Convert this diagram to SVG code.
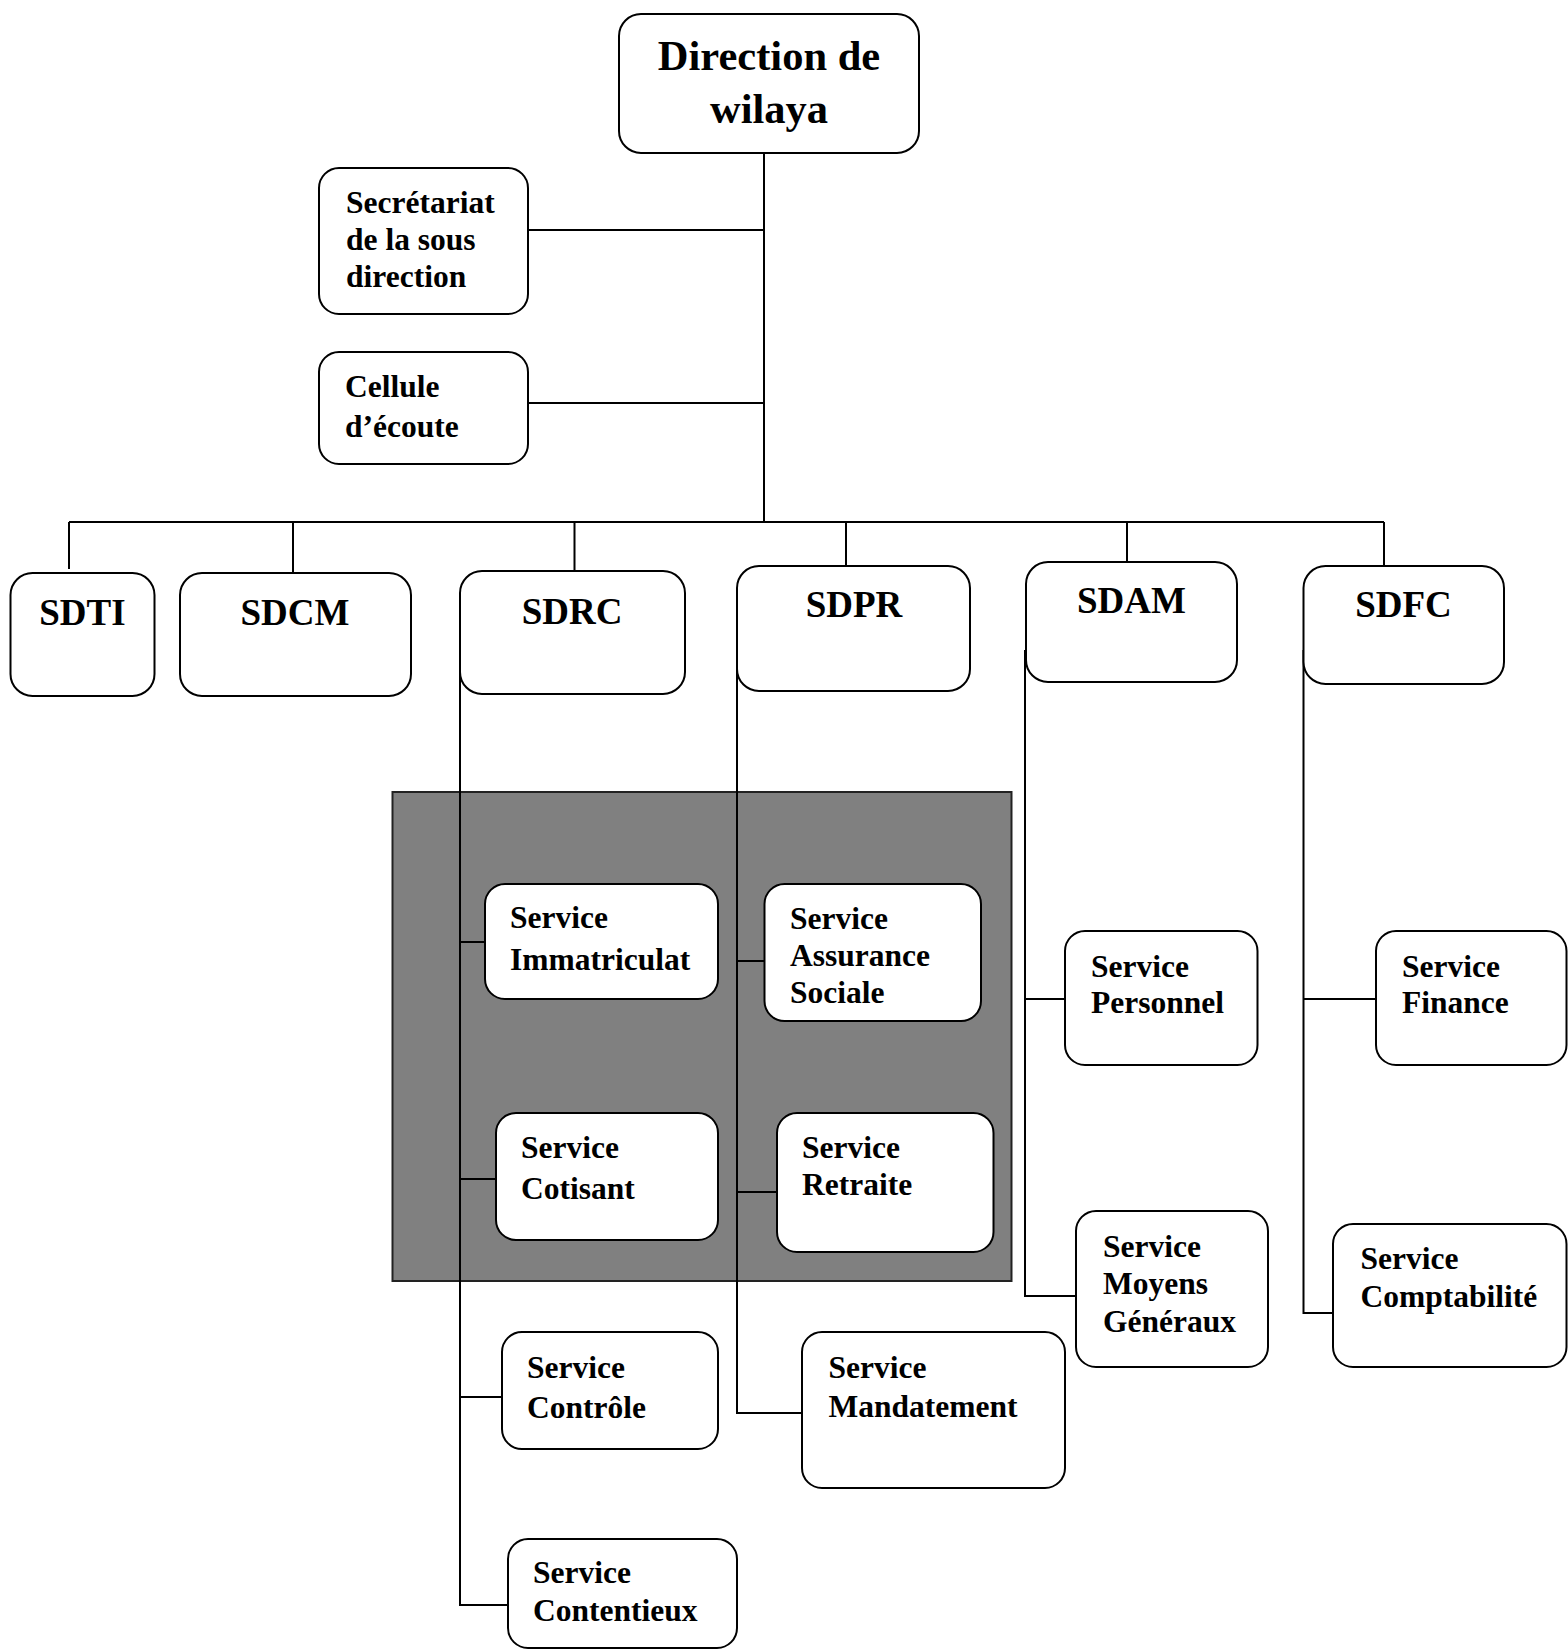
<svg xmlns="http://www.w3.org/2000/svg" width="1568" height="1650" viewBox="0 0 1568 1650">
<style>
.box{fill:#fff;stroke:#000;stroke-width:2}
.ln{fill:none;stroke:#000;stroke-width:2}
text{font-family:"Liberation Serif","Times New Roman",serif;font-weight:bold;fill:#000}
.t1{font-size:42.5px;text-anchor:middle}
.t2{font-size:37px;text-anchor:middle}
.t3{font-size:31.5px}
</style>
<rect x="392.5" y="792" width="619" height="489" fill="#808080" stroke="#222" stroke-width="2"/>
<g id="connectors">
<path class="ln" d="M764 153 V522 M528 230 H764 M528 403 H764"/>
<path class="ln" d="M69 522 H1384 M69 522 V569 M293 522 V573 M574.5 522 V571 M846 522 V566 M1127 522 V562 M1384 522 V566"/>
<path class="ln" d="M460 650 V1605 H508 M460 942 H485 M460 1179 H496 M460 1397 H502"/>
<path class="ln" d="M737 650 V1413 H802 M737 961 H764 M737 1192 H777"/>
<path class="ln" d="M1025 650 V1296 H1076 M1025 999 H1065"/>
<path class="ln" d="M1303.5 650 V1313 H1333 M1303.5 999 H1376"/>
</g>
<g id="direction"><rect class="box" x="619" y="14" width="300" height="139" rx="22"/><text class="t1" x="769" y="70">Direction de</text><text class="t1" x="769" y="123">wilaya</text></g>
<g id="secretariat"><rect class="box" x="319" y="168" width="209" height="146" rx="20"/><text class="t3" x="346" y="213">Secrétariat</text><text class="t3" x="346" y="250">de la sous</text><text class="t3" x="346" y="287">direction</text></g>
<g id="cellule"><rect class="box" x="319" y="352" width="209" height="112" rx="20"/><text class="t3" x="345" y="397">Cellule</text><text class="t3" x="345" y="437">d’écoute</text></g>
<g id="sdti"><rect class="box" x="10.5" y="573" width="144" height="123" rx="22"/><text class="t2" x="82.5" y="625">SDTI</text></g>
<g id="sdcm"><rect class="box" x="180" y="573" width="231" height="123" rx="22"/><text class="t2" x="295" y="625">SDCM</text></g>
<g id="sdrc"><rect class="box" x="460" y="571" width="225" height="123" rx="22"/><text class="t2" x="572" y="624">SDRC</text></g>
<g id="sdpr"><rect class="box" x="737" y="566" width="233" height="125" rx="22"/><text class="t2" x="854" y="617">SDPR</text></g>
<g id="sdam"><rect class="box" x="1026" y="562" width="211" height="120" rx="22"/><text class="t2" x="1131.5" y="613">SDAM</text></g>
<g id="sdfc"><rect class="box" x="1303.5" y="566" width="200.5" height="118" rx="22"/><text class="t2" x="1403.5" y="617">SDFC</text></g>
<g id="immatriculat"><rect class="box" x="485" y="884" width="233" height="115" rx="20"/><text class="t3" x="510" y="928">Service</text><text class="t3" x="510" y="970">Immatriculat</text></g>
<g id="assurance"><rect class="box" x="764.5" y="884" width="216.5" height="137" rx="20"/><text class="t3" x="790" y="929">Service</text><text class="t3" x="790" y="966">Assurance</text><text class="t3" x="790" y="1003">Sociale</text></g>
<g id="cotisant"><rect class="box" x="496" y="1113" width="222" height="127" rx="20"/><text class="t3" x="521" y="1158">Service</text><text class="t3" x="521" y="1199">Cotisant</text></g>
<g id="retraite"><rect class="box" x="777" y="1113" width="216.5" height="139" rx="20"/><text class="t3" x="802" y="1158">Service</text><text class="t3" x="802" y="1195">Retraite</text></g>
<g id="personnel"><rect class="box" x="1065" y="931" width="192.5" height="134" rx="20"/><text class="t3" x="1091" y="977">Service</text><text class="t3" x="1091" y="1013">Personnel</text></g>
<g id="finance"><rect class="box" x="1376" y="931" width="190.5" height="134" rx="20"/><text class="t3" x="1402" y="977">Service</text><text class="t3" x="1402" y="1013">Finance</text></g>
<g id="moyens"><rect class="box" x="1076" y="1211" width="192" height="156" rx="20"/><text class="t3" x="1103" y="1257">Service</text><text class="t3" x="1103" y="1294">Moyens</text><text class="t3" x="1103" y="1332">Généraux</text></g>
<g id="comptabilite"><rect class="box" x="1333" y="1224" width="233.5" height="143" rx="20"/><text class="t3" x="1360.5" y="1269">Service</text><text class="t3" x="1360.5" y="1307">Comptabilité</text></g>
<g id="controle"><rect class="box" x="502" y="1332" width="216" height="117" rx="20"/><text class="t3" x="527" y="1378">Service</text><text class="t3" x="527" y="1418">Contrôle</text></g>
<g id="mandatement"><rect class="box" x="802" y="1332" width="263" height="156" rx="20"/><text class="t3" x="828.5" y="1378">Service</text><text class="t3" x="828.5" y="1417">Mandatement</text></g>
<g id="contentieux"><rect class="box" x="508" y="1539" width="229" height="109" rx="20"/><text class="t3" x="533" y="1583">Service</text><text class="t3" x="533" y="1621">Contentieux</text></g>
</svg>
